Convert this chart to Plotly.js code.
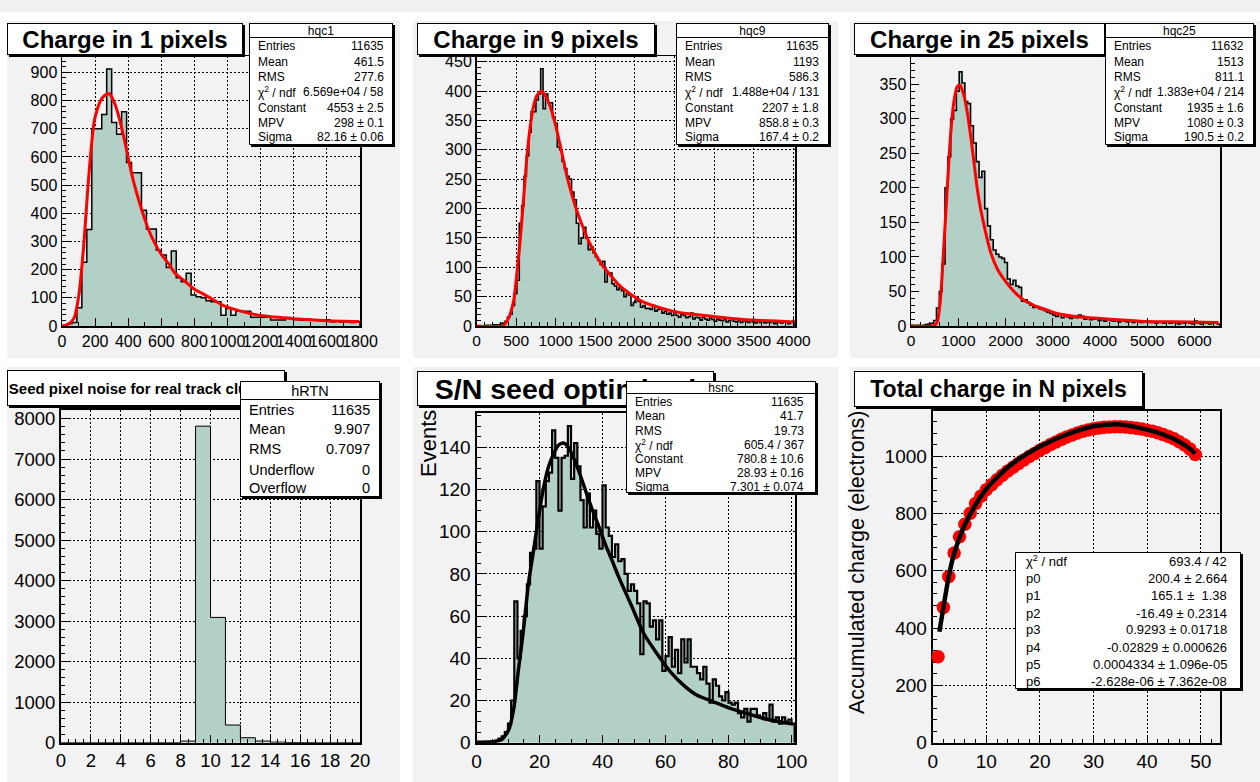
<!DOCTYPE html>
<html><head><meta charset="utf-8">
<script src="https://cdn.plot.ly/plotly-3.0.1.min.js"></script>
<style>html,body{margin:0;padding:0;background:#fff;}#chart{width:1260px;height:782px;}</style>
</head><body><div id="chart"></div>
<script>
// ---------------- DATA ----------------
// Charge in 1 pixels (hqc1): 30-unit bins from 0
const hqc1BinWidth = 30;
const hqc1Counts = [2,8,12,65,226,342,700,700,750,912,722,680,760,580,544,544,411,344,344,269,252,208,266,171,157,187,110,104,100,90,86,86,38,62,38,52,52,52,31,31,31,31,21,21,21,30,26,22,20,24,21,20,18,22,15,18,14,16,12,15];
const hqc1FitX = [0,31,72,102,133,153,174,194,214,239,265,286,306,326,357,388,418,449,479,520,561,602,643,683,744,806,846,897,969,1091,1214,1397,1601,1795];
const hqc1FitY = [0,4,27,110,299,464,617,724,771,806,821,824,806,777,712,630,547,476,417,346,293,252,222,187,158,128,116,99,74,51,36,26,19,16];

// Charge in 9 pixels (hqc9): 30-unit bins from 0
const hqc9BinWidth = 30;
const hqc9Counts = [0,0,0,0,1,1,1,2,2,2,
 4,5,8,15,20,35,55,78,175,205,
 255,290,330,365,365,385,395,438,370,395,
 380,380,355,345,305,300,280,268,255,250,
 228,215,175,140,150,168,150,130,135,125,
 118,112,105,110,75,90,90,72,68,62,
 65,60,50,55,53,35,40,48,42,32,
 35,30,30,28,35,25,28,30,22,25,
 20,22,18,25,18,15,20,18,14,16,
 22,12,15,14,10,15,12,10,14,11,
 8,12,10,9,11,7,9,12,8,7,
 10,6,9,8,6,10,7,5,8,6,
 9,5,7,6,8,4,7,6,5,7,
 6,4,6,8];
const hqc9FitX = [0,340,403,466,508,550,592,634,676,718,760,823,886,949,1012,1075,1138,1201,1264,1327,1411,1495,1579,1663,1789,1915,2100,2521,2941,3361,4015];
const hqc9FitY = [0,1,13,41,87,144,212,284,337,373,392,400,388,366,334,296,257,225,197,174,146,124,105,91,71,57,41,24,17,11,7];

// Charge in 25 pixels (hqc25): 60-unit bins from 0
const hqc25BinWidth = 60;
const hqc25Counts = [1,0,1,0,1,2,3,4,8,26,
 50,90,200,245,300,312,340,368,352,325,
 322,290,265,238,215,224,170,145,125,110,
 104,100,98,92,68,60,66,58,56,36,
 38,34,30,27,28,25,24,22,20,18,
 16,14,17,12,15,13,11,14,12,16,
 14,10,12,9,10,11,8,9,7,10,
 8,7,8,6,9,7,6,8,5,7,
 6,5,7,6,5,6,4,6,5,4,
 6,4,5,5,3,5,4,6,4,3,
 7,4,3,5,4,3,5,4,3];
const hqc25FitX = [0,486,556,626,697,767,838,908,979,1035,1120,1190,1261,1331,1402,1472,1578,1684,1825,1966,2142,2353,2600,2882,3094,3441,4147,4852,5557,6509];
const hqc25FitY = [0,0.5,6,41,118,199,276,325,347,349,334,310,276,238,199,170,136,107,83,68,53,39,30,23,18,14,10,7,6,5];

// Seed pixel noise (hRTN): unit bins 0..20
const hrtnBinWidth = 1;
const hrtnCounts = [0,0,0,0,0,0,0,0,40,7812,3092,436,123,41,15,5,3,0,0,0];

// S/N seed (hsnc): unit bins 0..101
const hsncBinWidth = 1;
const hsncCounts = [0,0,0,0,0,0,1,2,3,5,
 9,20,67,40,53,60,75,90,92,124,
 92,112,124,128,148,135,110,135,136,150,
 125,142,131,115,102,118,102,110,99,92,
 122,102,98,88,94,86,87,80,72,75,
 72,66,42,67,66,55,58,49,58,34,
 41,50,36,44,33,49,38,49,36,36,
 33,30,36,28,19,30,27,22,20,24,
 19,18,19,14,12,16,10,16,16,13,
 12,14,11,18,10,12,9,12,10,11,
 9];
const hsncFitX = [0,4,6,8,10.2,11.8,13.3,14.9,16.5,18.1,19.7,21.3,22.9,24.5,26,27.6,29.2,30.8,32.4,34.5,36.6,38.7,40.9,43,45.1,47.2,49.3,53,57.2,61.5,65.7,69.9,75.2,80.5,85.8,91,96.3,100.5];
const hsncFitY = [0.2,0.3,0.6,1.5,6,16,34.5,53.4,75.5,91,107,121,131,137,141,142,140,135,129,120,111,103,94,86.5,78.7,71.6,64.6,52,42.4,33.7,27.3,22.6,19.4,16.3,13.9,11.5,9.9,8.8];

// Total charge in N pixels
const nPixels = [1,2,3,4,5,6,7,8,9,10,11,12,13,14,15,16,17,18,19,20,21,22,23,24,25,26,27,28,29,30,31,32,33,34,35,36,37,38,39,40,41,42,43,44,45,46,47,48,49];
const accCharge = [300,472,580,662,718,762,800,834,860,882,900,917,933,948,961,974,986,998,1009,1020,1030,1040,1049,1058,1066,1073,1080,1086,1091,1095,1098,1100,1101,1102,1102,1101,1099,1097,1094,1090,1086,1081,1075,1068,1060,1050,1038,1024,1005];
const polFitX = [1.25,2,3,4,5,6,8,10,12,15,20,25,30,35,40,43,46,48,49];
const polFitY = [387,472,580,660,714,760,830,885,925,975,1033,1075,1104,1110,1092,1075,1050,1025,1008];

// Text content
const titles = ["Charge in 1 pixels","Charge in 9 pixels","Charge in 25 pixels","Seed pixel noise for real track clusters","S/N seed optimized","Total charge in N pixels"];
const statsNames = ["hqc1","hqc9","hqc25","hRTN","hsnc"];
const landauLabels = ["Entries","Mean","RMS","χ<sup>2</sup> / ndf","Constant","MPV","Sigma"];
const hqc1Stats = ["11635","461.5","277.6","6.569e+04 / 58","4553 ± 2.5","298 ± 0.1","82.16 ± 0.06"];
const hqc9Stats = ["11635","1193","586.3","1.488e+04 / 131","2207 ± 1.8","858.8 ± 0.3","167.4 ± 0.2"];
const hqc25Stats = ["11632","1513","811.1","1.383e+04 / 214","1935 ± 1.6","1080 ± 0.3","190.5 ± 0.2"];
const hrtnLabels = ["Entries","Mean","RMS","Underflow","Overflow"];
const hrtnStats = ["11635","9.907","0.7097","0","0"];
const hsncStats = ["11635","41.7","19.73","605.4 / 367","780.8 ± 10.6","28.93 ± 0.16","7.301 ± 0.074"];
const polLabels = ["χ<sup>2</sup> / ndf","p0","p1","p2","p3","p4","p5","p6"];
const polStats = ["693.4 / 42","200.4 ± 2.664","165.1 ±\u00a0\u00a01.38","-16.49 ± 0.2314","0.9293 ± 0.01718","-0.02829 ± 0.000626","0.0004334 ± 1.096e-05","-2.628e-06 ± 7.362e-08"];

// ---------------- DRAWING ----------------
const W = 1260, H = 782;
const FILL = '#b3d0c7', PADBG = '#f2f2f2';
const FONT = 'Liberation Sans, Arial, Helvetica, sans-serif';
const px = v => v / W, py = v => 1 - v / H;

function stairs(counts, w) {
  const x = [0], y = [0];
  counts.forEach((c, i) => { x.push(i * w); y.push(c); });
  const end = counts.length * w;
  x.push(end); y.push(counts[counts.length - 1]);
  x.push(end); y.push(0);
  return {x, y};
}
function histTrace(counts, w, ax, lw) {
  const s = stairs(counts, w);
  return {type:'scatter', mode:'lines', x:s.x, y:s.y, xaxis:'x'+ax, yaxis:'y'+ax,
    line:{shape:'hv', color:'black', width:lw}, fill:'tozeroy', fillcolor:FILL, hoverinfo:'skip'};
}
function fitTrace(x, y, ax, color, lw) {
  return {type:'scatter', mode:'lines', x, y, xaxis:'x'+ax, yaxis:'y'+ax,
    line:{shape:'spline', smoothing:0.7, color, width:lw}, hoverinfo:'skip'};
}

const traces = [
  histTrace(hqc1Counts, hqc1BinWidth, '', 1.5),
  fitTrace(hqc1FitX, hqc1FitY, '', '#ff0000', 3),
  histTrace(hqc9Counts, hqc9BinWidth, '2', 1.6),
  fitTrace(hqc9FitX, hqc9FitY, '2', '#ff0000', 3),
  histTrace(hqc25Counts, hqc25BinWidth, '3', 1.6),
  fitTrace(hqc25FitX, hqc25FitY, '3', '#ff0000', 3),
  histTrace(hrtnCounts, hrtnBinWidth, '4', 1),
  histTrace(hsncCounts, hsncBinWidth, '5', 2.2),
  fitTrace(hsncFitX, hsncFitY, '5', '#000000', 3.5),
  {type:'scatter', mode:'markers', x:nPixels, y:accCharge, xaxis:'x6', yaxis:'y6', cliponaxis:false,
    marker:{color:'#ff0000', size:13.5, line:{width:0}}, hoverinfo:'skip'},
  fitTrace(polFitX, polFitY, '6', '#000000', 4.5)
];

function axis(d0, d1, range, dtick, minorDtick, size, grid, anchor, lw) {
  return {domain:[d0, d1], range, autorange:false, dtick, tick0:0, anchor,
    showline:true, linecolor:'black', linewidth:lw, mirror:true,
    ticks:'inside', ticklen:8, tickwidth:1, tickcolor:'black',
    minor:{ticks:'inside', ticklen:4, tickwidth:1, tickcolor:'black', dtick:minorDtick, tick0:0, showgrid:false},
    showgrid:grid, gridcolor:'black', gridwidth:1, griddash:'2px,2px',
    zeroline:false, tickangle:0, fixedrange:true,
    tickfont:{family:FONT, size, color:'black'}};
}

const layout = {
  width:W, height:H, margin:{l:0,r:0,t:0,b:0},
  paper_bgcolor:'#ffffff', plot_bgcolor:PADBG, showlegend:false,
  xaxis:  axis(px(62), px(360), [0,1800], 200, 100, 16, true, 'y', 1.5),
  yaxis:  axis(py(326), py(56), [0,958], 100, 20, 16, true, 'x', 1.5),
  xaxis2: axis(px(476.5), px(795), [0,4020], 500, 100, 15.5, true, 'y2', 1.5),
  yaxis2: axis(py(326), py(56), [0,459.7], 50, 10, 16, true, 'x2', 1.5),
  xaxis3: axis(px(911), px(1220), [0,6540], 1000, 200, 15.5, false, 'y3', 1.5),
  yaxis3: axis(py(326), py(56), [0,391], 50, 10, 16, false, 'x3', 1.5),
  xaxis4: axis(px(61), px(360), [0,20], 2, 0.5, 18.5, true, 'y4', 2),
  yaxis4: axis(py(742.7), py(410), [0,8211], 1000, 200, 18.5, true, 'x4', 2),
  xaxis5: axis(px(476.5), px(795.3), [0,101.2], 20, 5, 19, true, 'y5', 2),
  yaxis5: axis(py(742.7), py(412.7), [0,156.4], 20, 5, 19, true, 'x5', 2),
  xaxis6: axis(px(932.7), px(1220), [0,53.6], 10, 2, 19, true, 'y6', 2),
  yaxis6: Object.assign(axis(py(742.7), py(410.7), [0,1158], 200, 40, 19, true, 'x6', 2), {layer:'below traces'}),
  shapes:[], annotations:[]
};

// pad backgrounds
const pads = [[7,21,400,358],[413,21,838,358],[850,21,1260,358],[7,367,400,782],[413,367,838,782],[850,367,1260,782]];
layout.shapes.push({type:'rect', xref:'paper', yref:'paper', x0:0, x1:1, y0:py(0), y1:py(12), fillcolor:'#f0f0f0', line:{width:0}, layer:'below'});
pads.forEach(p => layout.shapes.push({type:'rect', xref:'paper', yref:'paper', x0:px(p[0]), x1:px(p[2]), y0:py(p[3]), y1:py(p[1]), fillcolor:PADBG, line:{width:0}, layer:'below'}));

const A = layout.annotations;
function shadow(x1, y1, x2, y2) {
  layout.shapes.push({type:'rect', xref:'paper', yref:'paper', x0:px(x1+2), x1:px(x2+2), y0:py(y2+2), y1:py(y1+2), fillcolor:'black', line:{width:0}, layer:'above'});
}
function shapeBox(x1, y1, x2, y2) {
  shadow(x1, y1, x2, y2);
  layout.shapes.push({type:'rect', xref:'paper', yref:'paper', x0:px(x1+0.5), x1:px(x2-0.5), y0:py(y2-0.5), y1:py(y1+0.5), fillcolor:'white', line:{color:'black', width:1}, layer:'above'});
}
function annBox(x1, y1, x2, y2, text, size, withShadow) {
  if (withShadow) shadow(x1, y1, x2, y2);
  A.push({xref:'paper', yref:'paper', x:px(x1), y:py(y1), xanchor:'left', yanchor:'top',
    width:x2-x1-2, height:y2-y1-2, text:text || ' ', showarrow:false, bgcolor:'white',
    bordercolor:'black', borderwidth:1, borderpad:0, align:'center', valign:'middle',
    font:{family:FONT, size:size || 12, color:'black'}});
}
function txt(x, y, text, anchor, size) {
  A.push({xref:'paper', yref:'paper', x:px(x), y:py(y), xanchor:anchor, yanchor:'middle',
    text, showarrow:false, font:{family:FONT, size, color:'black'}});
}
function stats(b, name, hdrBottom, labels, values, rows, lx, rx, size, coversTitle) {
  if (coversTitle) annBox(b[0], b[1], b[2], b[3], null, size, true);
  else shapeBox(b[0], b[1], b[2], b[3]);
  if (name) annBox(b[0], b[1], b[2], hdrBottom, name, size, false);
  labels.forEach((l, i) => { txt(lx, rows[i], l, 'left', size); txt(rx, rows[i], values[i], 'right', size); });
}
const bold = s => '<b>' + s + '</b>';

// titles (drawn first so stats boxes cover them where the reference does)
annBox(7, 23, 243, 55, bold(titles[0]), 24, true);
annBox(417, 23, 655, 55, bold(titles[1]), 24, true);
annBox(854, 23, 1105, 55, bold(titles[2]), 24, true);
annBox(7, 370, 285, 406, bold(titles[3]), 15, true);
annBox(417, 371, 714, 406, bold(titles[4]), 28.5, true);
annBox(854, 371, 1143, 407, bold(titles[5]), 23, true);

const rowsTop = [46,62,77,92,108,123,137];
stats([249,23,393,145], statsNames[0], 38, landauLabels, hqc1Stats, rowsTop, 256, 386, 12, false);
stats([676,23,829,145], statsNames[1], 38, landauLabels, hqc9Stats, rowsTop, 683, 821, 12, false);
stats([1105,23,1254,145], statsNames[2], 38, landauLabels, hqc25Stats, rowsTop, 1112, 1246, 12, false);
stats([240,381,380,497], statsNames[3], 400, hrtnLabels, hrtnStats, [410,429,449,470,488], 247, 372, 14.5, true);
stats([626,381,816,493], statsNames[4], 394, landauLabels, hsncStats, [402,416,431,445,459,473,487], 633, 806, 12, true);
stats([1015,552,1241,689], null, 0, polLabels, polStats, [561,578,595,613,629,647,664,681], 1024, 1229, 13, false);

// y-axis titles
A.push({xref:'paper', yref:'paper', x:px(428), y:py(444), xanchor:'center', yanchor:'middle', textangle:-90,
  text:'Events', showarrow:false, font:{family:FONT, size:22, color:'black'}});
A.push({xref:'paper', yref:'paper', x:px(857), y:py(562), xanchor:'center', yanchor:'middle', textangle:-90,
  text:'Accumulated charge (electrons)', showarrow:false, font:{family:FONT, size:21.5, color:'black'}});

Plotly.newPlot('chart', traces, layout, {displayModeBar:false, staticPlot:true});
</script>
</body></html>
